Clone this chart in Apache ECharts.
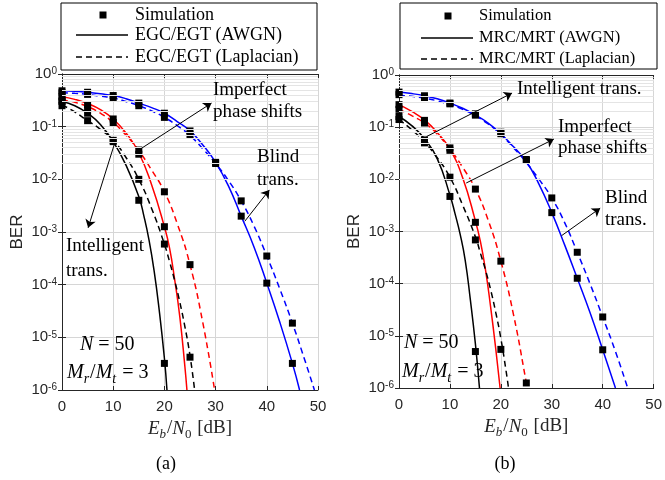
<!DOCTYPE html>
<html><head><meta charset="utf-8">
<script src="https://cdn.jsdelivr.net/npm/echarts@6/dist/echarts.min.js"></script>
<style>html,body{margin:0;padding:0;background:#fff}#c{width:665px;height:480px}</style>
</head><body><div id="c"></div>
<script>
// ---------- data ----------
const xTicks = [0, 10, 20, 30, 40, 50];
const minorMantissas = [2, 3, 4, 5, 6, 7, 8, 9];
const decades = [1e-6, 1e-5, 1e-4, 1e-3, 1e-2, 1e-1];

// (a) EGC/EGT curves [Eb/N0 dB, BER]
const a_blindAwgn = [[0,0.48],[2.5,0.47],[5,0.45],[7.5,0.42],[10,0.39],[12.5,0.34],[15,0.28],[17.5,0.23],[20,0.18],[22.5,0.125],[25,0.083],[27.5,0.045],[30,0.021],[32.5,0.0075],[35,0.002],[37.5,5.2e-4],[40,1.07e-4],[42.5,2.0e-5],[45,3.2e-6],[46.4,1e-6]];
const a_blindLap = [[0,0.44],[2.5,0.43],[5,0.41],[7.5,0.38],[10,0.35],[12.5,0.3],[15,0.25],[17.5,0.2],[20,0.15],[22.5,0.105],[25,0.068],[27.5,0.038],[30,0.02],[32.5,0.0095],[35,0.0039],[37.5,1.3e-3],[40,3.5e-4],[42.5,8.5e-5],[45,1.86e-5],[47.5,3.5e-6],[49.3,1e-6]];
const a_ipsAwgn = [[0,0.37],[2.5,0.33],[5,0.275],[7.5,0.21],[10,0.14],[12.5,0.076],[15,0.032],[17.5,0.0079],[20,1.26e-3],[21,5e-4],[22,1.26e-4],[23,2.5e-5],[24,2.8e-6],[24.4,1e-6]];
const a_ipsLap = [[0,0.32],[2.5,0.29],[5,0.24],[7.5,0.18],[10,0.12],[12.5,0.069],[15,0.035],[17.5,0.015],[20,0.0058],[22.5,1.45e-3],[25,2.4e-4],[27.5,1.9e-5],[29.8,1e-6]];
const a_itAwgn = [[0,0.3],[2.5,0.25],[5,0.18],[7.5,0.11],[10,0.052],[12.5,0.0186],[15,0.0047],[16,2e-3],[17,7e-4],[18,1.8e-4],[19,3.2e-5],[20,4e-6],[20.5,1e-6]];
const a_itLap = [[0,0.26],[2.5,0.19],[5,0.13],[7.5,0.089],[10,0.055],[12.5,0.026],[15,0.01],[17.5,0.0028],[20,5.9e-4],[21,2.75e-4],[22,1.2e-4],[23,4.7e-5],[24,1.6e-5],[25,4.5e-6],[25.9,1e-6]];
// (a) simulation points
const a_simBlindAwgn = [[0,0.48],[5,0.45],[10,0.39],[15,0.28],[20,0.18],[25,0.083],[30,0.021],[35,0.002],[40,1.07e-4],[45,3.2e-6]];
const a_simBlindLap = [[0,0.44],[5,0.41],[10,0.35],[15,0.25],[20,0.15],[25,0.07],[30,0.02],[35,0.0039],[40,3.5e-4],[45,1.86e-5]];
const a_simIpsAwgn = [[0,0.37],[5,0.26],[10,0.14],[15,0.036],[20,1.26e-3]];
const a_simIpsLap = [[0,0.32],[5,0.22],[10,0.12],[15,0.03],[20,0.0058],[25,2.4e-4]];
const a_simItAwgn = [[0,0.3],[5,0.18],[10,0.052],[15,0.004],[20,3.2e-6]];
const a_simItLap = [[0,0.25],[5,0.13],[10,0.055],[15,0.01],[20,5.9e-4],[25,4.2e-6]];

// (b) MRC/MRT curves
const b_blindAwgn = [[0,0.47],[2.5,0.44],[5,0.4],[7.5,0.35],[10,0.29],[12.5,0.23],[15,0.17],[17.5,0.12],[20,0.075],[22.5,0.042],[25,0.022],[27.5,0.008],[30,0.0023],[32.5,5.6e-4],[35,1.27e-4],[37.5,2.8e-5],[40,5.4e-6],[42.5,1e-6]];
const b_blindLap = [[0,0.41],[2.5,0.39],[5,0.36],[7.5,0.32],[10,0.27],[12.5,0.22],[15,0.165],[17.5,0.115],[20,0.072],[22.5,0.04],[25,0.021],[27.5,0.01],[30,0.0044],[32.5,1.5e-3],[35,4e-4],[37.5,1e-4],[40,2.3e-5],[42.5,5e-6],[44.9,1e-6]];
const b_ipsAwgn = [[0,0.27],[2.5,0.2],[5,0.138],[7.5,0.079],[10,0.038],[12.5,0.0107],[15,0.0016],[16,6.3e-4],[17,1.8e-4],[18,3.5e-5],[19,5.6e-6],[19.85,1e-6]];
const b_ipsLap = [[0,0.22],[2.5,0.166],[5,0.12],[7.5,0.074],[10,0.038],[12.5,0.017],[15,0.0065],[17.5,0.00166],[20,2.7e-4],[22.5,2.5e-5],[25,1.26e-6],[25.15,1e-6]];
const b_itAwgn = [[0,0.16],[2.5,0.107],[5,0.06],[7.5,0.025],[10,0.005],[11,2.2e-3],[12,8.9e-4],[13,2.8e-4],[14,5e-5],[15,7e-6],[15.8,1e-6]];
const b_itLap = [[0,0.14],[2.5,0.089],[5,0.052],[7.5,0.026],[10,0.011],[12.5,0.0032],[15,7.9e-4],[16,3.8e-4],[17,1.8e-4],[18,7.6e-5],[19,2.8e-5],[20,8.9e-6],[21,2.2e-6],[21.5,1e-6]];
// (b) simulation points
const b_simBlindAwgn = [[0,0.47],[5,0.4],[10,0.29],[15,0.18],[20,0.08],[25,0.024],[30,0.0023],[35,1.27e-4],[40,5.4e-6]];
const b_simBlindLap = [[0,0.42],[5,0.37],[10,0.28],[15,0.17],[20,0.075],[25,0.023],[30,0.0044],[35,4e-4],[40,2.3e-5]];
const b_simIpsAwgn = [[0,0.27],[5,0.135],[10,0.04],[15,0.0015]];
const b_simIpsLap = [[0,0.22],[5,0.12],[10,0.036],[15,0.0065],[20,2.7e-4],[25,1.25e-6]];
const b_simItAwgn = [[0,0.16],[5,0.057],[10,0.0047],[15,5e-6]];
const b_simItLap = [[0,0.14],[5,0.05],[10,0.011],[15,6.9e-4],[20,5.5e-6]];

// annotation arrows [from, to] in data coordinates
const a_arrows = [[[15,0.036],[29.2,0.28]], [[35.7,0.0016],[40.5,0.0063]], [[10.3,0.049],[5.1,0.0012]]];
const b_arrows = [[[5.4,0.066],[22.2,0.45]], [[13.2,0.0085],[30.4,0.059]], [[31.9,8.3e-4],[39.5,0.0028]]];

// ---------- chart ----------
const SERIF = '"Liberation Serif", "Times New Roman", serif';
const SANS = '"Liberation Sans", Arial, sans-serif';
const AX = '#262626';
const minorValues = [];
decades.forEach(d => minorMantissas.forEach(m => minorValues.push(m * d)));

const chart = echarts.init(document.getElementById('c'), null, {renderer: 'canvas'});

function xAxes(gi) {
  return [
    {gridIndex: gi, type: 'value', min: 0, max: 50, interval: 10, position: 'bottom',
     axisLine: {lineStyle: {color: AX, width: 1}}, axisTick: {inside: true, length: 4, lineStyle: {color: AX}},
     axisLabel: {fontFamily: SANS, fontSize: 15, color: AX, margin: 9},
     splitLine: {show: true, lineStyle: {color: '#d6d6d6', width: 1}},
     name: '{i|E}{si|b}{r|/}{i|N}{s|0}{r| [dB]}', nameLocation: 'middle', nameGap: 29,
     nameTextStyle: {color: AX, rich: {
       i: {fontFamily: SERIF, fontStyle: 'italic', fontSize: 19, lineHeight: 19, verticalAlign: 'top', color: AX},
       r: {fontFamily: SERIF, fontSize: 19, lineHeight: 19, verticalAlign: 'top', color: AX},
       si: {fontFamily: SERIF, fontStyle: 'italic', fontSize: 13, lineHeight: 13, padding: [9, 1, 0, 0], verticalAlign: 'top', color: AX},
       s: {fontFamily: SERIF, fontSize: 13, lineHeight: 13, padding: [9, 1, 0, 0], verticalAlign: 'top', color: AX}}}},
    {gridIndex: gi, type: 'value', min: 0, max: 50, interval: 10, position: 'top',
     axisLine: {lineStyle: {color: AX, width: 1}}, axisTick: {inside: true, length: 4, lineStyle: {color: AX}},
     axisLabel: {show: false}, splitLine: {show: false}}
  ];
}
function yAxes(gi) {
  return [
    {gridIndex: gi, type: 'log', logBase: 10, min: 1e-6, max: 1, position: 'left',
     axisLine: {show: true, lineStyle: {color: AX, width: 1}}, axisTick: {show: true, inside: true, length: 4, lineStyle: {color: AX}},
     axisLabel: {margin: 5, formatter: v => '{b|10}{s|' + Math.round(Math.log10(v)) + '}',
       rich: {b: {fontFamily: SANS, fontSize: 15, lineHeight: 15, padding: [6, 0, 6, 0], color: AX},
              s: {fontFamily: SANS, fontSize: 10, lineHeight: 10, verticalAlign: 'top', color: AX}}},
     splitLine: {show: true, lineStyle: {color: '#d6d6d6', width: 1}},
     name: 'BER', nameLocation: 'middle', nameGap: 36, nameRotate: 90,
     nameTextStyle: {fontFamily: SANS, fontSize: 17, color: AX}},
    {gridIndex: gi, type: 'log', logBase: 10, min: 1e-6, max: 1, position: 'right',
     axisLine: {show: true, lineStyle: {color: AX, width: 1}}, axisTick: {show: true, inside: true, length: 4, lineStyle: {color: AX}},
     axisLabel: {show: false}, splitLine: {show: false}}
  ];
}

function curve(data, color, dashed, xi, yi) {
  return {type: 'line', data: data, xAxisIndex: xi, yAxisIndex: yi, showSymbol: false, symbol: 'none',
    smooth: 0.5, z: 3, silent: true,
    lineStyle: {color: color, width: 1.5, type: dashed ? [6, 4] : 'solid'}};
}
function sims(list, xi, yi) {
  return {type: 'scatter', data: [].concat(...list), xAxisIndex: xi, yAxisIndex: yi,
    symbol: 'rect', symbolSize: 7, itemStyle: {color: '#000', opacity: 1}, z: 4, silent: true};
}
function gridDecor(xi, yi, arrows) {
  return [
    {type: 'line', data: [], xAxisIndex: xi, yAxisIndex: yi, z: 1, silent: true,
     markLine: {silent: true, symbol: 'none', label: {show: false}, animation: false,
       lineStyle: {color: '#e4e4e4', width: 1, type: 'solid'},
       data: minorValues.map(v => ({yAxis: v}))}},
    {type: 'line', data: [], xAxisIndex: xi, yAxisIndex: yi, z: 5, silent: true,
     markLine: {silent: true, symbol: ['none', 'arrow'], symbolSize: 8, label: {show: false}, animation: false,
       lineStyle: {color: '#000', width: 1, type: 'solid'},
       data: arrows.map(a => [{coord: a[0]}, {coord: a[1]}])}}
  ];
}

const series = [].concat(
  gridDecor(0, 0, a_arrows),
  [curve(a_blindAwgn, '#0000ff', false, 0, 0), curve(a_blindLap, '#0000ff', true, 0, 0),
   curve(a_ipsAwgn, '#ff0000', false, 0, 0), curve(a_ipsLap, '#ff0000', true, 0, 0),
   curve(a_itAwgn, '#000000', false, 0, 0), curve(a_itLap, '#000000', true, 0, 0),
   sims([a_simBlindAwgn, a_simBlindLap, a_simIpsAwgn, a_simIpsLap, a_simItAwgn, a_simItLap], 0, 0)],
  gridDecor(2, 2, b_arrows),
  [curve(b_blindAwgn, '#0000ff', false, 2, 2), curve(b_blindLap, '#0000ff', true, 2, 2),
   curve(b_ipsAwgn, '#ff0000', false, 2, 2), curve(b_ipsLap, '#ff0000', true, 2, 2),
   curve(b_itAwgn, '#000000', false, 2, 2), curve(b_itLap, '#000000', true, 2, 2),
   sims([b_simBlindAwgn, b_simBlindLap, b_simIpsAwgn, b_simIpsLap, b_simItAwgn, b_simItLap], 2, 2)]
);

function txt(x, y, text, size, lh, rich) {
  const s = {x: x, y: y, text: text, font: size + 'px ' + SERIF, fill: '#000', verticalAlign: 'top', lineHeight: lh};
  if (rich) s.rich = rich;
  return {type: 'text', z: 10, style: s};
}
const mathRich = {
  i: {fontFamily: SERIF, fontStyle: 'italic', fontSize: 20, lineHeight: 20, verticalAlign: 'top'},
  r: {fontFamily: SERIF, fontSize: 20, lineHeight: 20, verticalAlign: 'top'},
  s: {fontFamily: SERIF, fontStyle: 'italic', fontSize: 14, lineHeight: 14, padding: [9, 1, 0, 0], verticalAlign: 'top'}
};
function legend(x, y, w, h, fs, mx, rows, lx1, lx2, tx, labels) {
  return [
    {type: 'rect', z: 10, shape: {x: x, y: y, width: w, height: h}, style: {fill: '#fff', stroke: '#000', lineWidth: 1}},
    {type: 'rect', z: 11, shape: {x: mx - 3.5, y: rows[0] - 3.5, width: 7, height: 7}, style: {fill: '#000'}},
    {type: 'line', z: 11, shape: {x1: lx1, y1: rows[1], x2: lx2, y2: rows[1]}, style: {stroke: '#000', lineWidth: 1.5}},
    {type: 'line', z: 11, shape: {x1: lx1, y1: rows[2], x2: lx2, y2: rows[2]}, style: {stroke: '#000', lineWidth: 1.5, lineDash: [6, 4]}},
    {type: 'text', z: 11, style: {x: tx, y: rows[0], text: labels[0], font: fs + 'px ' + SERIF, fill: '#000', verticalAlign: 'middle'}},
    {type: 'text', z: 11, style: {x: tx, y: rows[1], text: labels[1], font: fs + 'px ' + SERIF, fill: '#000', verticalAlign: 'middle'}},
    {type: 'text', z: 11, style: {x: tx, y: rows[2], text: labels[2], font: fs + 'px ' + SERIF, fill: '#000', verticalAlign: 'middle'}}
  ];
}

const graphic = [].concat(
  legend(61, 3, 256, 67, 18, 103, [15, 35, 57], 76, 128, 135, ['Simulation', 'EGC/EGT (AWGN)', 'EGC/EGT (Laplacian)']),
  legend(400, 3, 257, 66, 16.5, 448, [16, 38, 59], 421, 473, 479, ['Simulation', 'MRC/MRT (AWGN)', 'MRC/MRT (Laplacian)']),
  [
    txt(213, 79, 'Imperfect\nphase shifts', 19, 22),
    txt(257, 146, 'Blind\ntrans.', 19, 23),
    txt(66, 234, 'Intelligent\ntrans.', 19, 25),
    txt(80, 335, '{i|N}{r| = 50}', 20, 20, mathRich),
    txt(67, 363, '{i|M}{s|r}{r|/}{i|M}{s|t}{r| = 3}', 20, 20, mathRich),
    txt(517, 78, 'Intelligent trans.', 19, 22),
    txt(558, 117, 'Imperfect\nphase shifts', 19, 21),
    txt(605, 187, 'Blind\ntrans.', 19, 22),
    txt(404, 333, '{i|N}{r| = 50}', 20, 20, mathRich),
    txt(402, 362, '{i|M}{s|r}{r|/}{i|M}{s|t}{r| = 3}', 20, 20, mathRich),
    {type: 'text', z: 10, style: {x: 166, y: 464, text: '(a)', font: '18px ' + SERIF, fill: '#000', align: 'center', verticalAlign: 'middle'}},
    {type: 'text', z: 10, style: {x: 505, y: 464, text: '(b)', font: '18px ' + SERIF, fill: '#000', align: 'center', verticalAlign: 'middle'}}
  ]
);

chart.setOption({
  animation: false,
  backgroundColor: '#fff',
  grid: [{left: 62, top: 74, width: 256, height: 316}, {left: 399, top: 75, width: 257, height: 313}],
  xAxis: xAxes(0).concat(xAxes(1)),
  yAxis: yAxes(0).concat(yAxes(1)),
  series: series,
  graphic: graphic
});
</script></body></html>
